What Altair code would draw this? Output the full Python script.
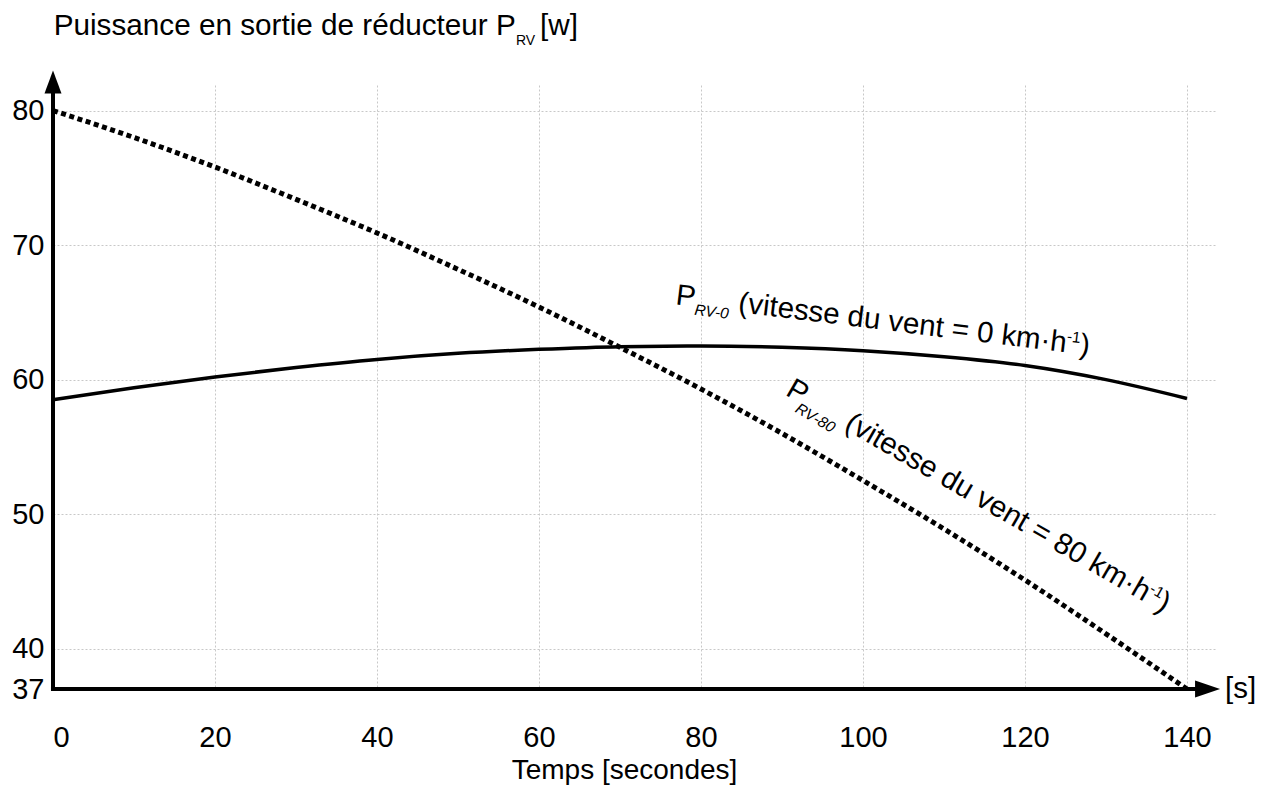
import altair as alt
import pandas as pd

# ---- data ----
time_s = [0, 10, 20, 30, 40, 50, 60, 70, 80, 90, 100, 110, 120, 130, 140]
p_rv0 = [58.5, 59.4, 60.2, 60.9, 61.5, 61.95, 62.25, 62.45, 62.5, 62.4, 62.15, 61.7, 61.05, 60.0, 58.6]
p_rv80 = [80.0, 78.0, 75.8, 73.4, 70.9, 68.2, 65.4, 62.4, 59.3, 56.0, 52.5, 48.9, 45.1, 41.1, 37.0]
series_names = ["P_RV-0", "P_RV-80"]
x_ticks = [0, 20, 40, 60, 80, 100, 120, 140]
y_ticks = [37, 40, 50, 60, 70, 80]

FONT = "Liberation Sans"
X_DOMAIN = [0, 143.46]
Y_DOMAIN = [37, 81.9]

df = pd.DataFrame({
    "t": time_s * 2,
    "p": p_rv0 + p_rv80,
    "serie": [series_names[0]] * len(time_s) + [series_names[1]] * len(time_s),
})
one = pd.DataFrame({"k": [0]})

xs = alt.Scale(domain=X_DOMAIN, nice=False, zero=False)
ys = alt.Scale(domain=Y_DOMAIN, nice=False, zero=False)

x_enc = alt.X("t:Q", scale=xs, title="Temps [secondes]",
              axis=alt.Axis(values=x_ticks, labelPadding=34.5, labelFontSize=29,
                            titleFontSize=28, titleFontWeight="normal",
                            titleX=571, titleY=89.5, titleBaseline="alphabetic",
                            titleAlign="center"))
y_enc = alt.Y("p:Q", scale=ys, title=None,
              axis=alt.Axis(values=y_ticks, labelPadding=9, labelFontSize=29))

base = alt.Chart(df)
solid = base.transform_filter(alt.datum.serie == series_names[0]).mark_line(
    color="black", strokeWidth=3.5, interpolate="monotone"
).encode(x=x_enc, y=y_enc)
dotted = base.transform_filter(alt.datum.serie == series_names[1]).mark_line(
    color="black", strokeWidth=5, strokeDash=[5, 3.6], strokeCap="butt", interpolate="monotone"
).encode(x=x_enc, y=y_enc)


def txt(text, x, y, dx=0, dy=0, size=29.5, angle=0, style="normal",
        align="left", baseline="alphabetic"):
    return alt.Chart(one).mark_text(
        text=text, dx=dx, dy=dy, fontSize=size, angle=angle, fontStyle=style,
        align=align, baseline=baseline, font=FONT, color="black"
    ).encode(x=alt.datum(x), y=alt.datum(y))


def ptxt(text, px, py, size=29.7):
    return alt.Chart(one).mark_text(
        text=text, fontSize=size, align="left", baseline="alphabetic",
        font=FONT, color="black"
    ).encode(x=alt.value(px), y=alt.value(py))


# axes with arrows
y_axis_line = alt.Chart(one).mark_rule(color="black", strokeWidth=4, strokeCap="butt").encode(
    x=alt.datum(0), y=alt.datum(36.85), y2=alt.datum(81.5))
x_axis_line = alt.Chart(one).mark_rule(color="black", strokeWidth=4, strokeCap="butt").encode(
    x=alt.datum(-0.25), x2=alt.datum(141.2), y=alt.datum(37))
y_arrow = alt.Chart(one).mark_point(
    shape="M0,-1L-0.37,0L0.37,0Z", size=2116, filled=True, color="black",
    opacity=1, strokeWidth=0).encode(x=alt.datum(0), y=alt.datum(81.27))
x_arrow = alt.Chart(one).mark_point(
    shape="M1,0L0,-0.34L0,0.34Z", size=2500, filled=True, color="black",
    opacity=1, strokeWidth=0).encode(x=alt.datum(141.0), y=alt.datum(37))
s_label = txt("[s]", 144.7, 37, size=29.5, baseline="middle")

# title with subscript
title_main = ptxt("Puissance en sortie de réducteur P", 0.7, -50)
title_sub = ptxt("RV", 463, -40, size=14)
title_end = ptxt("[w]", 487, -50)

# annotation P_RV-0
a1x, a1y, a1ang = 76.8, 65.6, 7
ann1 = [
    txt("P", a1x, a1y, angle=a1ang),
    txt("RV-0", a1x, a1y, dx=20, dy=8, size=15.5, angle=a1ang, style="italic"),
    txt("(vitesse du vent = 0 km·h", a1x, a1y, dx=63, angle=a1ang),
    txt("-1", a1x, a1y, dx=393, dy=-11, size=15.5, angle=a1ang),
    txt(")", a1x, a1y, dx=407, angle=a1ang),
]
# annotation P_RV-80
a2x, a2y, a2ang = 90.3, 58.9, 30
ann2 = [
    txt("P", a2x, a2y, angle=a2ang),
    txt("RV-80", a2x, a2y, dx=17, dy=10, size=15.5, angle=a2ang, style="italic"),
    txt("(vitesse du vent = 80 km·h", a2x, a2y, dx=68, angle=a2ang),
    txt("-1", a2x, a2y, dx=414, dy=-11, size=15.5, angle=a2ang),
    txt(")", a2x, a2y, dx=428, angle=a2ang),
]

chart = alt.layer(
    solid, dotted, y_axis_line, x_axis_line, y_arrow, x_arrow, s_label,
    title_main, title_sub, title_end, *ann1, *ann2
).properties(
    width=1162, height=604,
    autosize=alt.AutoSizeParams(type="none"),
    padding={"left": 45, "top": 77, "right": 43, "bottom": 98},
    background="white",
).configure_axis(
    domain=False, ticks=False, tickSize=0, grid=True,
    gridColor="#c8c8c8", gridDash=[2, 2], gridWidth=1,
    labelFont=FONT, titleFont=FONT, labelColor="black", titleColor="black",
).configure_view(stroke=None).configure_text(font=FONT)

chart.save("out.html", embed_options={"renderer": "svg", "actions": False})
